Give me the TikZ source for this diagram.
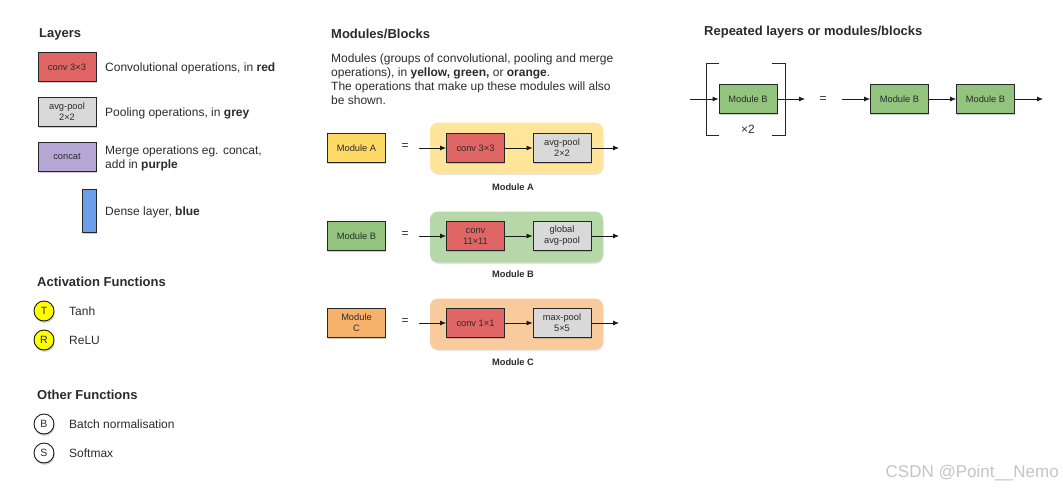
\documentclass[tikz,border=0pt]{standalone}
\usepackage{fontspec}
\setmainfont{Liberation Sans}
\usetikzlibrary{arrows.meta,shadows}
\definecolor{txt}{HTML}{2B2B2B}
\definecolor{cred}{HTML}{E06666}
\definecolor{cgrey}{HTML}{D9D9D9}
\definecolor{cpurple}{HTML}{B4A7D6}
\definecolor{cblue}{HTML}{6D9EEB}
\definecolor{cyel}{HTML}{FFD966}
\definecolor{cyelL}{HTML}{FFE599}
\definecolor{cgreen}{HTML}{93C47D}
\definecolor{cgreenL}{HTML}{B6D7A8}
\definecolor{corange}{HTML}{F6B26B}
\definecolor{corangeL}{HTML}{F9CB9C}
\definecolor{cyellow}{HTML}{FFFF00}
\definecolor{wm}{HTML}{C4C4C4}
\tikzset{
  x=1pt,y=-1pt,
  shad/.style={drop shadow={opacity=0.4,shadow xshift=0.6pt,shadow yshift=-1.8pt}},
  box/.style={draw=black!85,line width=0.8pt,minimum width=58pt,minimum height=29pt,inner sep=0pt,
    align=center,text=txt,font=\fontsize{9.3}{11}\selectfont,shad},
  cont/.style={rounded corners=8pt,minimum width=173pt,minimum height=51pt,inner sep=0pt,
    drop shadow={opacity=0.2,shadow xshift=0.5pt,shadow yshift=-1.5pt}},
  title/.style={anchor=west,inner sep=0pt,text=txt,font=\fontsize{13}{15}\selectfont\bfseries},
  desc/.style={anchor=west,inner sep=0pt,text=txt,align=left,font=\fontsize{12}{14}\selectfont},
  modlab/.style={inner sep=0pt,text=txt,font=\fontsize{9.3}{11}\selectfont\bfseries},
  fcirc/.style={circle,draw=black!90,line width=0.9pt,minimum size=20pt,inner sep=0pt,
    text=txt,font=\fontsize{10.5}{12}\selectfont,shad},
  arr/.style={draw=black!90,line width=0.8pt,-{Latex[length=6pt,width=5pt]}},
  eq/.style={inner sep=0pt,text=txt,font=\fontsize{12}{14}\selectfont},
}
\begin{document}
\begin{tikzpicture}
\useasboundingbox (0,0) rectangle (1063,493);
% ---------------- Layers
\node[title] (tLayers) at (39,34) {Layers};
\node[box,fill=cred] (lconv) at (67,67) {conv 3×3};
\node[desc] (dconv) at (105,68) {Convolutional operations, in \textbf{red}};
\node[box,fill=cgrey] (lpool) at (67,112) {avg-pool\\2×2};
\node[desc] (dpool) at (105,113) {Pooling operations, in \textbf{grey}};
\node[box,fill=cpurple] (lcat) at (67,157) {concat};
\node[desc] (dcat) at (105,158) {Merge operations eg. concat,\\add in \textbf{purple}};
\node[box,fill=cblue,minimum width=14pt,minimum height=43pt] (ldense) at (89,210.5) {};
\node[desc] (ddense) at (105,212) {Dense layer, \textbf{blue}};
% ---------------- Activation functions
\node[title] (tAct) at (37,282) {Activation Functions};
\node[fcirc,fill=cyellow] (cT) at (44,311) {T};
\node[desc] (dT) at (69,311) {Tanh};
\node[fcirc,fill=cyellow] (cR) at (44,340) {R};
\node[desc] (dR) at (69,340) {ReLU};
% ---------------- Other functions
\node[title] (tOther) at (37,395) {Other Functions};
\node[fcirc,fill=white] (cB) at (44,424) {B};
\node[desc] (dB) at (69,424) {Batch normalisation};
\node[fcirc,fill=white] (cS) at (44,453) {S};
\node[desc] (dS) at (69,453) {Softmax};
% ---------------- Modules/Blocks
\node[title] (tMod) at (331,34) {Modules/Blocks};
\node[desc,anchor=north west] (dMod) at (331,54) {Modules (groups of convolutional, pooling and merge\\operations), in \textbf{yellow, green,} or \textbf{orange}.\\The operations that make up these modules will also\\be shown.};
% Module A
\node[box,fill=cyel] (mA) at (356.5,148) {Module A};
\node[eq] (eqA) at (405,147) {=};
\node[cont,fill=cyelL] (contA) at (516.5,148) {};
\node[box,fill=cred] (convA) at (475.5,148) {conv 3×3};
\node[box,fill=cgrey] (poolA) at (562,148) {avg-pool\\2×2};
\coordinate (inA) at (419,148);
\coordinate (outA) at (619,148);
\draw[arr] (inA) -- (convA);
\draw[arr] (convA) -- (poolA);
\draw[arr] (poolA) -- (outA);
\node[modlab] (labA) at (513,187) {Module A};
% Module B
\node[box,fill=cgreen] (mB) at (356.5,236) {Module B};
\node[eq] (eqB) at (405,235) {=};
\node[cont,fill=cgreenL] (contB) at (516.5,237) {};
\node[box,fill=cred] (convB) at (475.5,236) {conv\\11×11};
\node[box,fill=cgrey] (poolB) at (562,236) {global\\avg-pool};
\coordinate (inB) at (419,236);
\coordinate (outB) at (619,236);
\draw[arr] (inB) -- (convB);
\draw[arr] (convB) -- (poolB);
\draw[arr] (poolB) -- (outB);
\node[modlab] (labB) at (513,274) {Module B};
% Module C
\node[box,fill=corange] (mC) at (356.5,323) {Module\\C};
\node[eq] (eqC) at (405,322) {=};
\node[cont,fill=corangeL] (contC) at (516.5,324) {};
\node[box,fill=cred] (convC) at (475.5,323) {conv 1×1};
\node[box,fill=cgrey] (poolC) at (562,323) {max-pool\\5×5};
\coordinate (inC) at (419,323);
\coordinate (outC) at (619,323);
\draw[arr] (inC) -- (convC);
\draw[arr] (convC) -- (poolC);
\draw[arr] (poolC) -- (outC);
\node[modlab] (labC) at (513,362) {Module C};
% ---------------- Repeated
\node[title] (tRep) at (704,32) {Repeated layers or modules/blocks};
\draw[draw=black!85,line width=0.8pt] (719,63) -- (706,63) -- (706,135) -- (719,135);
\draw[draw=black!85,line width=0.8pt] (772,63) -- (785,63) -- (785,135) -- (772,135);
\node[box,fill=cgreen] (rB) at (748,99) {Module B};
\node[eq] (x2) at (748,129) {×2};
\coordinate (rin) at (690,99);
\coordinate (rout) at (805,99);
\draw[arr] (rin) -- (rB);
\draw[arr] (rB) -- (rout);
\node[eq] (eqR) at (823,100) {=};
\node[box,fill=cgreen] (rB2) at (899.5,99) {Module B};
\node[box,fill=cgreen] (rB3) at (985.5,99) {Module B};
\coordinate (rin2) at (842,99);
\coordinate (rout2) at (1043,99);
\draw[arr] (rin2) -- (rB2);
\draw[arr] (rB2) -- (rB3);
\draw[arr] (rB3) -- (rout2);
% ---------------- watermark
\node[anchor=east,inner sep=0pt,text=wm,font=\fontsize{17}{19}\selectfont] (wmk) at (1059,473) {CSDN @Point\_\_Nemo};
\end{tikzpicture}
\end{document}
